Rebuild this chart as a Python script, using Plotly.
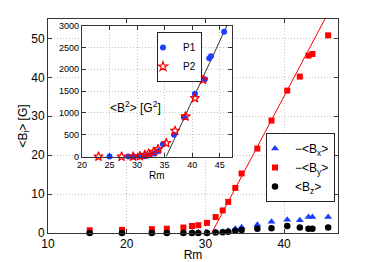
import plotly.graph_objects as go

# Main panel data (Rm vs field components)
rm = [15.3, 19.4, 23.2, 25.1, 27.2, 28.3, 29.1, 30.2, 31.3, 32.2, 32.9, 33.8, 34.6, 36.6, 38.4, 40.4, 42.0, 43.1, 43.6, 45.6]
bx = [0.1, 0.1, 0.1, 0.1, 0.1, 0.1, 0.1, 0.1, 0.2, 0.3, 0.6, 1.1, 1.5, 2.1, 2.9, 3.4, 3.3, 4.1, 4.1, 4.1]
by = [0.7, 0.8, 1.0, 1.1, 1.4, 1.8, 2.0, 2.6, 4.1, 5.8, 8.0, 11.6, 15.3, 21.7, 28.9, 36.6, 40.2, 45.6, 46.0, 50.8]
bz = [0.0, 0.0, 0.0, 0.0, 0.0, 0.0, 0.0, 0.0, 0.1, 0.2, 0.3, 0.6, 0.8, 1.1, 1.2, 1.8, 1.4, 1.1, 1.1, 1.4]
fit_by_x = [30.8, 46.0]
fit_by_y = [0.0, 58.1]

# Inset data (<B^2>)
p1_x = [25.0, 28.4, 29.3, 30.4, 31.4, 32.3, 33.2, 33.9, 34.7, 36.7, 38.5, 40.5, 42.3, 43.1, 43.4, 45.8]
p1_y = [0, 0, 0, 0, 10, 30, 70, 130, 280, 500, 900, 1440, 1770, 2250, 2300, 2860]
p2_x = [23.0, 27.2, 29.3, 30.5, 31.4, 32.1, 33.0, 33.8, 35.3, 36.9, 38.8, 40.5, 42.0]
p2_y = [0, 0, 0, 10, 40, 70, 110, 170, 310, 590, 920, 1340, 1760]
fit_b2_x = [35.3, 46.3]
fit_b2_y = [0, 3000]

BLUE = "#1f3dff"
RED = "#ff0000"
FONT = "Liberation Sans, Arial, sans-serif"

fig = go.Figure()

# main
fig.add_trace(go.Scatter(x=fit_by_x, y=fit_by_y, mode="lines", line=dict(color=RED, width=1),
                         showlegend=False, xaxis="x", yaxis="y"))
fig.add_trace(go.Scatter(x=rm, y=bx, mode="markers", name="−&lt;B<sub>x</sub>&gt;", cliponaxis=False,
                         marker=dict(symbol="triangle-up", color=BLUE, size=7), xaxis="x", yaxis="y", legend="legend"))
fig.add_trace(go.Scatter(x=rm, y=by, mode="markers", name="−&lt;B<sub>y</sub>&gt;", cliponaxis=False,
                         marker=dict(symbol="square", color=RED, size=6), xaxis="x", yaxis="y", legend="legend"))
fig.add_trace(go.Scatter(x=rm, y=bz, mode="markers", name="&lt;B<sub>z</sub>&gt;", cliponaxis=False,
                         marker=dict(symbol="circle", color="black", size=6.5), xaxis="x", yaxis="y", legend="legend"))

# inset
fig.add_trace(go.Scatter(x=fit_b2_x, y=fit_b2_y, mode="lines", line=dict(color="#333333", width=1),
                         showlegend=False, xaxis="x2", yaxis="y2"))
fig.add_trace(go.Scatter(x=p1_x, y=p1_y, mode="markers", name="P1", cliponaxis=False,
                         marker=dict(symbol="circle", color=BLUE, size=6), xaxis="x2", yaxis="y2", legend="legend2"))
fig.add_trace(go.Scatter(x=p2_x, y=p2_y, mode="markers", name="P2", cliponaxis=False,
                         marker=dict(symbol="star-open", color=RED, size=7, line=dict(width=1.2)),
                         xaxis="x2", yaxis="y2", legend="legend2"))

grid = dict(showgrid=True, gridcolor="#c4c4c4", griddash="1px,2px", gridwidth=1)
axline = dict(showline=True, linecolor="#333333", linewidth=1, mirror="ticks", ticks="inside",
              ticklen=4, tickcolor="#333333", zeroline=False)

fig.update_layout(
    width=374, height=262,
    margin=dict(l=48, r=36, t=19, b=29),
    paper_bgcolor="white", plot_bgcolor="white",
    font=dict(family=FONT, size=12, color="black"),
    xaxis=dict(domain=[0, 1], range=[10, 46.85], tickvals=[10, 20, 30, 40],
               title=dict(text="Rm", font=dict(size=12), standoff=0), automargin=False, **grid, **axline),
    yaxis=dict(domain=[0, 1], range=[0, 55], tickvals=[0, 10, 20, 30, 40, 50],
               title=dict(text="&lt;B<sub>i</sub>&gt; [G]", font=dict(size=12), standoff=0), automargin=False,
               **grid, **axline),
    xaxis2=dict(domain=[0.117, 0.634], anchor="y2", range=[20, 47.2], tickvals=[20, 25, 30, 35, 40, 45],
                tickfont=dict(size=9), title=dict(text="Rm", font=dict(size=10), standoff=0),
                automargin=False, **grid, **axline),
    yaxis2=dict(domain=[0.357, 0.969], anchor="x2", range=[0, 3000],
                tickvals=[0, 500, 1000, 1500, 2000, 2500, 3000], tickfont=dict(size=9),
                automargin=False, **grid, **axline),
    legend=dict(x=218 / 290, y=100 / 214, xanchor="left", yanchor="top", bgcolor="white",
                bordercolor="#222222", borderwidth=1, font=dict(size=12), tracegroupgap=0,
                indentation=-12),
    legend2=dict(x=109 / 290, y=201 / 214, xanchor="left", yanchor="top", bgcolor="white",
                 bordercolor="#222222", borderwidth=1, font=dict(size=10), indentation=-15),
    annotations=[dict(text="&lt;B<sup>2</sup>&gt; [G<sup>2</sup>]", x=29.8, y=1140, xref="x2", yref="y2",
                      showarrow=False, font=dict(size=12))],
)

fig.write_html("out.html", config={"displayModeBar": False},
               post_script="document.body.style.margin='0';")
